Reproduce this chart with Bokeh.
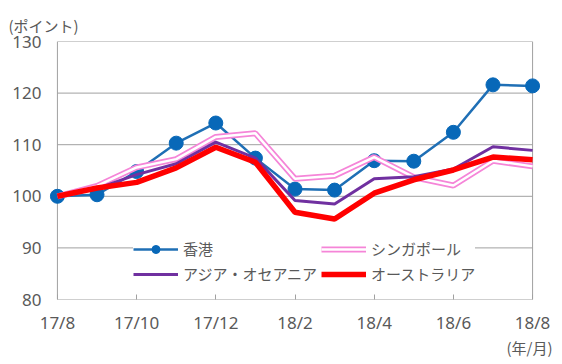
from bokeh.plotting import figure
from bokeh.models import Range1d, FixedTicker, Legend, LegendItem, Title
from bokeh.embed import file_html
from bokeh.resources import INLINE

months = ["17/8", "17/9", "17/10", "17/11", "17/12", "18/1", "18/2",
          "18/3", "18/4", "18/5", "18/6", "18/7", "18/8"]
hong_kong = [100.0, 100.3, 104.8, 110.3, 114.2, 107.4, 101.4, 101.2, 106.9, 106.8, 112.4, 121.6, 121.4]
singapore = [100.0, 102.0, 105.6, 107.2, 111.5, 112.2, 103.4, 104.0, 107.6, 103.7, 102.1, 106.9, 105.8]
asia_oceania = [100.0, 101.5, 104.2, 106.3, 110.5, 107.4, 99.2, 98.5, 103.4, 103.8, 105.3, 109.6, 108.9]
australia = [100.0, 101.6, 102.7, 105.5, 109.5, 106.6, 96.9, 95.6, 100.6, 103.2, 105.1, 107.6, 107.1]
y_ticks = [80, 90, 100, 110, 120, 130]
x_tick_step = 2

x = list(range(len(months)))
x_last = x[-1]

JP = "Noto Sans CJK JP"
TXT = "#595959"
GRID = "#a0a0a0"

p = figure(frame_width=491, frame_height=258, output_backend="svg", toolbar_location=None,
           x_range=Range1d(-0.2, x_last + 0.2), y_range=Range1d(y_ticks[0], y_ticks[-1]),
           min_border_left=49, min_border_right=14, min_border_top=41, min_border_bottom=50)
p.outline_line_color = None
p.xgrid.visible = False
p.ygrid.visible = False

# gridlines and frame drawn across the data extent
p.segment(x0=[x[0]] * len(y_ticks), x1=[x_last] * len(y_ticks), y0=y_ticks, y1=y_ticks,
          line_color=GRID, line_width=1)
p.segment(x0=[x[0], x_last], x1=[x[0], x_last], y0=[y_ticks[0]] * 2, y1=[y_ticks[-1]] * 2,
          line_color=GRID, line_width=1)

r_hk_l = p.line(x, hong_kong, line_color="#1f6fb5", line_width=2.5)
r_hk_m = p.scatter(x, hong_kong, size=14, fill_color="#0868b8", line_color="#0868b8")
r_sg_o = p.line(x, singapore, line_color="#f585d8", line_width=6)
r_sg_i = p.line(x, singapore, line_color="white", line_width=2.5)
r_ao = p.line(x, asia_oceania, line_color="#7030a0", line_width=3)
r_au = p.line(x, australia, line_color="#ff0000", line_width=5.5)

xa = p.xaxis[0]
xa.ticker = FixedTicker(ticks=x[::x_tick_step])
xa.major_label_overrides = {i: months[i] for i in x[::x_tick_step]}
xa.axis_line_color = None
xa.major_tick_in = 5
xa.major_tick_out = 0
xa.major_tick_line_color = GRID
xa.minor_tick_line_color = None
xa.major_label_text_font = "Noto Sans"
xa.major_label_text_font_size = "17px"
xa.major_label_text_color = TXT
xa.major_label_standoff = 11
xa.major_label_text_line_height = 0.75

ya = p.yaxis[0]
ya.ticker = FixedTicker(ticks=y_ticks)
ya.axis_line_color = None
ya.major_tick_in = 0
ya.major_tick_out = 0
ya.minor_tick_line_color = None
ya.major_label_text_font = "Noto Sans"
ya.major_label_text_font_size = "17px"
ya.major_label_text_color = TXT
ya.major_label_standoff = 8

legend = Legend(items=[
    LegendItem(label="香港", renderers=[r_hk_l, r_hk_m]),
    LegendItem(label="アジア・オセアニア", renderers=[r_ao]),
    LegendItem(label="シンガポール", renderers=[r_sg_o, r_sg_i]),
    LegendItem(label="オーストラリア", renderers=[r_au]),
], ncols=2, location=(84, 15))
legend.label_text_font = JP
legend.label_text_font_size = "15px"
legend.label_text_color = TXT
legend.glyph_width = 45
legend.glyph_height = 20
legend.spacing = 4
legend.padding = 8
legend.label_standoff = 5
legend.border_line_color = None
legend.background_fill_color = "white"
legend.background_fill_alpha = 1
p.add_layout(legend, "center")

p.add_layout(Title(text="(ポイント)", align="left", offset=-41, standoff=12,
                   text_font=JP, text_font_size="15px", text_font_style="normal",
                   text_color=TXT), "above")
p.add_layout(Title(text="(年/月)", align="right", offset=-12, standoff=0,
                   vertical_align="top",
                   text_font=JP, text_font_size="15px", text_font_style="normal",
                   text_color=TXT), "below")

open("out.html", "w").write(file_html(p, INLINE))
